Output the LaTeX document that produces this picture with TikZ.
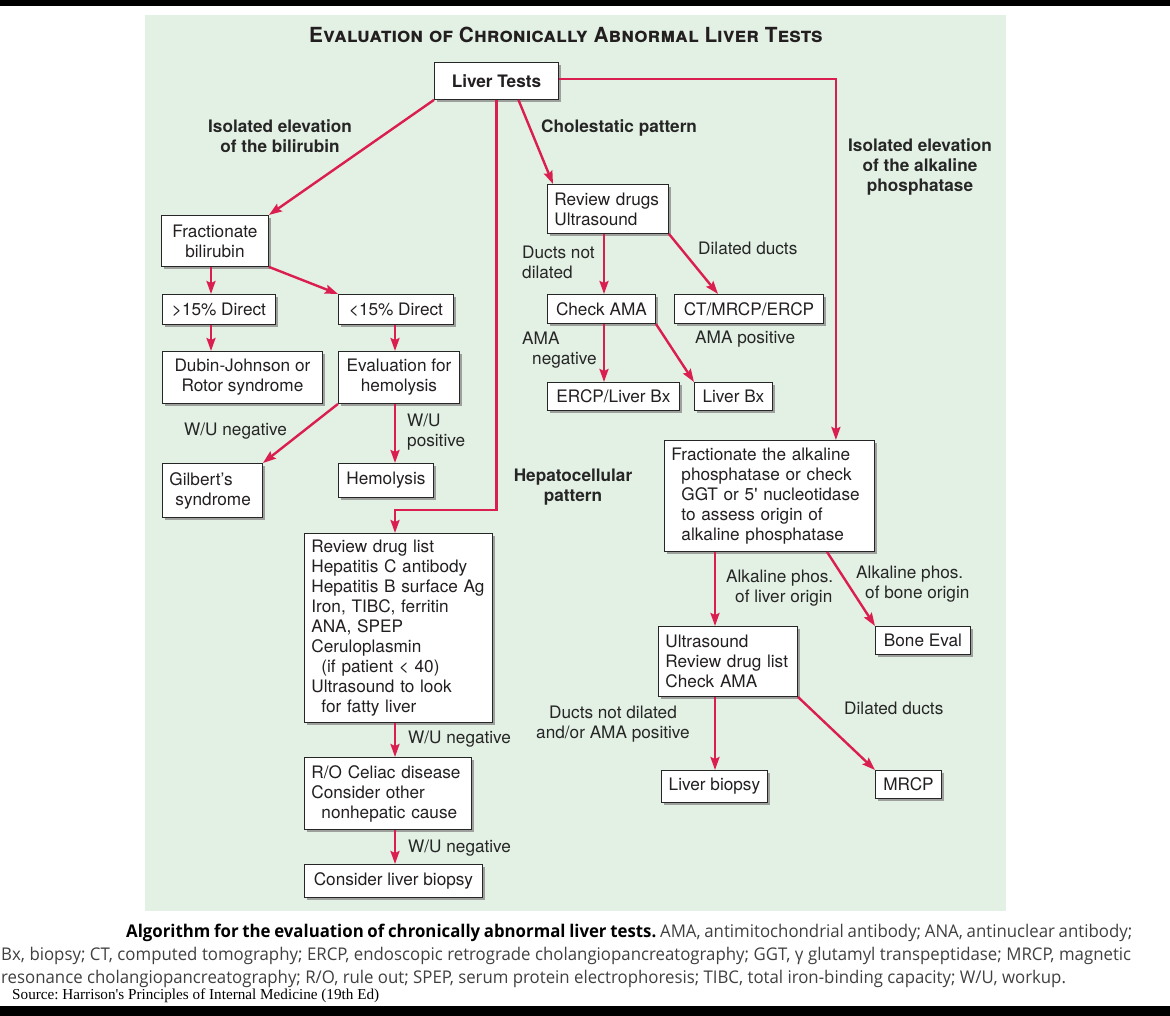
\documentclass[tikz,border=0pt]{standalone}
\usepackage{fontspec}
\usepackage{xcolor}
\usepackage{tikz}
\usetikzlibrary{arrows.meta,shadows}
\setmainfont{TeX Gyre Heros}
\newfontfamily\capfont[FakeStretch=0.96]{Open Sans}
\newfontfamily\srcfont{Liberation Serif}
\definecolor{bggreen}{RGB}{227,240,228}
\definecolor{arrred}{RGB}{218,30,80}
\definecolor{inkgray}{RGB}{35,31,32}
\newcommand{\indnt}{\hspace*{10pt}}
\frenchspacing

\begin{document}
\begin{tikzpicture}[x=1pt,y=-1pt,
		box/.style={draw=black!85,line width=0.9pt,fill=white,anchor=north west,inner xsep=7pt,inner ysep=0pt,
			font=\fontsize{17.2}{20}\selectfont,text=inkgray,
			drop shadow={shadow xshift=3pt,shadow yshift=-3pt,fill=black!45,opacity=0.8}},
		lbl/.style={inner sep=0pt,font=\fontsize{17.2}{20}\selectfont,text=black!85},
		blbl/.style={lbl,font=\fontsize{17.2}{20}\selectfont\bfseries,align=center},
		captxt/.style={inner sep=0pt,anchor=base west,font=\capfont\fontsize{17.5}{22}\selectfont,text=black!75},
		arr/.style={draw=arrred,line width=2.4pt,-{Stealth[length=13pt,width=9pt,inset=2pt]}}]
			\path[use as bounding box,fill=white] (0,0) rectangle (1170,1016);
			\fill[black] (0,0) rectangle (1170,6);
			\fill[black] (0,1006) rectangle (1170,1016);
			\fill[bggreen] (145,15) rectangle (1006,911);

			\node[inner sep=0pt,anchor=base,font=\fontsize{20.8}{24}\selectfont\bfseries\scshape,text=inkgray] (title) at (566,43) {Evaluation of Chronically Abnormal Liver Tests};

			\node[box,minimum width=124pt,minimum height=37pt,font=\fontsize{17.2}{20}\selectfont\bfseries] (lt) at (434,62) {Liver Tests};
			\node[box,minimum width=107pt,minimum height=51pt,align=center] (fb) at (161,215) {Fractionate\\bilirubin};
			\node[box,minimum width=113pt,minimum height=30pt] (gd) at (162,294) {>15\% Direct};
			\node[box,minimum width=115pt,minimum height=30pt] (ld) at (338,294) {<15\% Direct};
			\node[box,minimum width=160pt,minimum height=52pt,align=center] (dj) at (162,351) {Dubin-Johnson or\\Rotor syndrome};
			\node[box,minimum width=121pt,minimum height=52pt,align=center] (eh) at (338,351) {Evaluation for\\hemolysis};
			\node[box,text width=86pt,minimum height=54pt,align=left] (gs) at (162,463) {Gilbert's\\\hspace*{6pt}syndrome};
			\node[box,minimum width=95pt,minimum height=34pt] (hm) at (338,463) {Hemolysis};
			\node[box,text width=174pt,minimum height=189pt,align=left] (rdl) at (304,533) {Review drug list\\Hepatitis C antibody\\Hepatitis B surface Ag\\Iron, TIBC, ferritin\\ANA, SPEP\\Ceruloplasmin\\\indnt(if patient < 40)\\Ultrasound to look\\\indnt for fatty liver};
			\node[box,text width=153pt,minimum height=72pt,align=left] (roc) at (304,757) {R/O Celiac disease\\Consider other\\\indnt nonhepatic cause};
			\node[box,minimum width=178pt,minimum height=33pt] (clb) at (304,864) {Consider liver biopsy};
			\node[box,text width=107pt,minimum height=49pt,align=left] (rdu) at (547,184) {Review drugs\\Ultrasound};
			\node[box,minimum width=108pt,minimum height=29pt] (ca) at (547,294) {Check AMA};
			\node[box,minimum width=149pt,minimum height=29pt] (cme) at (674,294) {CT/MRCP/ERCP};
			\node[box,minimum width=132pt,minimum height=28pt] (elb) at (547,382) {ERCP/Liver Bx};
			\node[box,minimum width=78pt,minimum height=28pt] (lbx) at (694,382) {Liver Bx};
			\node[box,text width=196pt,minimum height=111pt,align=left] (fap) at (664,440) {Fractionate the alkaline\\\indnt phosphatase or check\\\indnt GGT or 5\textquotesingle{} nucleotidase\\\indnt to assess origin of\\\indnt alkaline phosphatase};
			\node[box,text width=125pt,minimum height=70pt,align=left] (usd) at (658,626) {Ultrasound\\Review drug list\\Check AMA};
			\node[box,minimum width=95pt,minimum height=28pt] (be) at (875,626) {Bone Eval};
			\node[box,minimum width=106pt,minimum height=32pt] (lbp) at (661,770) {Liver biopsy};
			\node[box,minimum width=66pt,minimum height=28pt] (mr) at (875,770) {MRCP};

			\node[blbl] (bil) at (280,136) {Isolated elevation\\of the bilirubin};
			\node[blbl,anchor=west] (chol) at (541,128) {Cholestatic pattern};
			\node[blbl] (alk) at (920,167) {Isolated elevation\\of the alkaline\\phosphatase};
			\node[blbl] (hep) at (573,487) {Hepatocellular\\pattern};
			\node[lbl,align=left,anchor=west] (dnd) at (522,262) {Ducts not\\dilated};
			\node[lbl,anchor=west] (ddc) at (698,248) {Dilated ducts};
			\node[lbl,anchor=west] (amap) at (695,339) {AMA positive};
			\node[lbl,align=left,anchor=west] (aman) at (522,350) {AMA\\\indnt negative};
			\node[lbl,anchor=west] (wun) at (184,431) {W/U negative};
			\node[lbl,align=left,anchor=west] (wup) at (407,432) {W/U\\positive};
			\node[lbl,anchor=west] (wunb) at (408,739) {W/U negative};
			\node[lbl,anchor=west] (wunc) at (408,848) {W/U negative};
			\node[lbl,align=left,anchor=west] (alo) at (726,588) {Alkaline phos.\\\hspace*{9pt}of liver origin};
			\node[lbl,align=left,anchor=west] (abo) at (856,584) {Alkaline phos.\\\hspace*{9pt}of bone origin};
			\node[lbl,align=center] (dndb) at (613,724) {Ducts not dilated\\and/or AMA positive};
			\node[lbl,anchor=west] (ddb) at (844,708) {Dilated ducts};

			\coordinate (hturn) at (0,510);
			\draw[arr] (lt.south west) -- (fb.north east);
			\draw[arr] (lt.south) -- (lt.south |- hturn) -| ([xshift=91pt]rdl.north west);
			\draw[arr] ([xshift=22pt]lt.south) -- ([xshift=6pt]rdu.north west);
			\draw[arr] ([yshift=2pt]lt.east) -| ([xshift=-39pt]fap.north east);
			\draw[arr] ([xshift=50pt]fb.south west) -- ([xshift=49pt]gd.north west);
			\draw[arr] (fb.south east) -- (ld.north west);
			\draw[arr] ([xshift=49pt]gd.south west) -- ([xshift=49pt]dj.north west);
			\draw[arr] ([xshift=57pt]ld.south west) -- ([xshift=57pt]eh.north west);
			\draw[arr] (eh.south west) -- (gs.north east);
			\draw[arr] ([xshift=57pt]eh.south west) -- ([xshift=57pt]hm.north west);
			\draw[arr] ([xshift=91pt]rdl.south west) -- ([xshift=91pt]roc.north west);
			\draw[arr] ([xshift=91pt]roc.south west) -- ([xshift=91pt]clb.north west);
			\draw[arr] ([xshift=57pt]rdu.south west) -- ([xshift=57pt]ca.north west);
			\draw[arr] (rdu.south east) -- ([xshift=44pt]cme.north west);
			\draw[arr] ([xshift=57pt]ca.south west) -- ([xshift=57pt]elb.north west);
			\draw[arr] (ca.south east) -- (lbx.north west);
			\draw[arr] ([xshift=51pt]fap.south west) -- ([xshift=57pt]usd.north west);
			\draw[arr] ([xshift=163pt]fap.south west) -- (be.north west);
			\draw[arr] ([xshift=57pt]usd.south west) -- ([xshift=54pt]lbp.north west);
			\draw[arr] (usd.south east) -- (mr.north west);

			\node[captxt] (capa) at (126,937) {\makebox[1006pt][s]{\textbf{\color{black}Algorithm for the evaluation of chronically abnormal liver tests.} AMA, antimitochondrial antibody; ANA, antinuclear antibody;}};
			\node[captxt] (capb) at (1,960) {\makebox[1130pt][s]{Bx, biopsy; CT, computed tomography; ERCP, endoscopic retrograde cholangiopancreatography; GGT, γ glutamyl transpeptidase; MRCP, magnetic}};
			\node[captxt] (capc) at (1,983) {resonance cholangiopancreatography; R/O, rule out; SPEP, serum protein electrophoresis; TIBC, total iron-binding capacity; W/U, workup.};
			\node[inner sep=0pt,anchor=base west,font=\srcfont\fontsize{15.2}{17}\selectfont] (src) at (12,999) {Source: Harrison\textquotesingle{}s Principles of Internal Medicine (19th Ed)};
		\end{tikzpicture}
\end{document}
